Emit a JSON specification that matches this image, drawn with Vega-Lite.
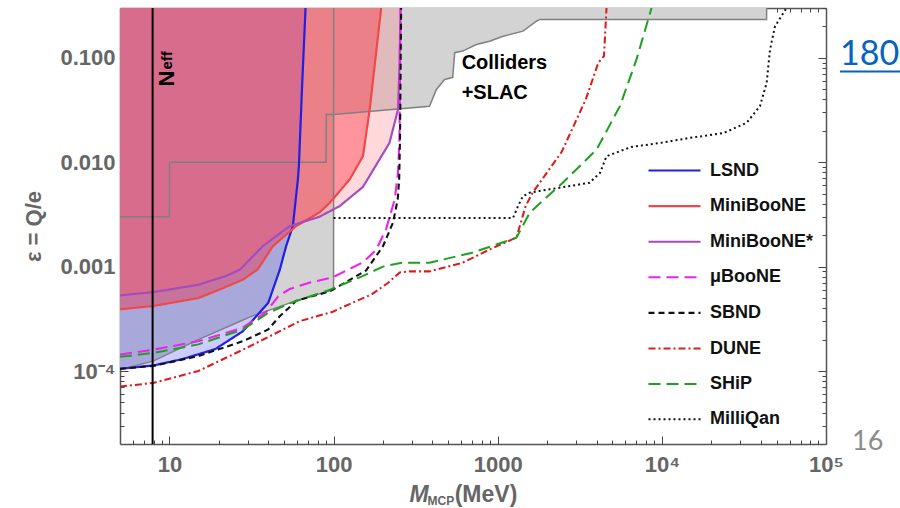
{
  "$schema": "https://vega.github.io/schema/vega-lite/v6.json",
  "width": 706,
  "height": 436,
  "autosize": {"type": "none"},
  "padding": {"left": 120, "top": 8, "right": 74, "bottom": 64},
  "background": "white",
  "config": {"view": {"stroke": null}, "font": "Liberation Sans", "axis": {"grid": false}},
  "datasets": {
    "grayfill": [
      {"x": 5, "y": 0.000103}, {"x": 8, "y": 0.000125}, {"x": 15, "y": 0.0002}, {"x": 27, "y": 0.0003},
      {"x": 31, "y": 0.00033}, {"x": 59, "y": 0.00047}, {"x": 100, "y": 0.0006}, {"x": 100.3, "y": 0.0287},
      {"x": 384, "y": 0.0344}, {"x": 423, "y": 0.0497}, {"x": 475, "y": 0.062}, {"x": 532, "y": 0.065},
      {"x": 547, "y": 0.112}, {"x": 612, "y": 0.116}, {"x": 741, "y": 0.134}, {"x": 893, "y": 0.144},
      {"x": 1077, "y": 0.161}, {"x": 1425, "y": 0.18}, {"x": 1722, "y": 0.224}, {"x": 1803, "y": 0.233},
      {"x": 43450, "y": 0.233}, {"x": 43500, "y": 0.3}
    ],
    "graylines": [
      {"g": "steps", "x": 5, "y": 0.003}, {"g": "steps", "x": 10, "y": 0.003}, {"g": "steps", "x": 10.03, "y": 0.01},
      {"g": "steps", "x": 90, "y": 0.01}, {"g": "steps", "x": 90.3, "y": 0.0287}, {"g": "steps", "x": 100, "y": 0.0287},
      {"g": "steps", "x": 384, "y": 0.0344}, {"g": "steps", "x": 423, "y": 0.0497}, {"g": "steps", "x": 475, "y": 0.062},
      {"g": "steps", "x": 532, "y": 0.065}, {"g": "steps", "x": 547, "y": 0.112}, {"g": "steps", "x": 612, "y": 0.116},
      {"g": "steps", "x": 741, "y": 0.134}, {"g": "steps", "x": 893, "y": 0.144}, {"g": "steps", "x": 1077, "y": 0.161},
      {"g": "steps", "x": 1425, "y": 0.18}, {"g": "steps", "x": 1722, "y": 0.224}, {"g": "steps", "x": 1803, "y": 0.233},
      {"g": "steps", "x": 43450, "y": 0.233}, {"g": "steps", "x": 43500, "y": 0.3},
      {"g": "slac", "x": 5, "y": 0.000103}, {"g": "slac", "x": 8, "y": 0.000125}, {"g": "slac", "x": 15, "y": 0.0002},
      {"g": "slac", "x": 27, "y": 0.0003}, {"g": "slac", "x": 31, "y": 0.00033}, {"g": "slac", "x": 59, "y": 0.00047},
      {"g": "slac", "x": 100, "y": 0.0006}, {"g": "slac", "x": 100.2, "y": 0.3}
    ],
    "lines": [
      {"s": "LSND", "x": 5, "y": 0.000105}, {"s": "LSND", "x": 8, "y": 0.000113}, {"s": "LSND", "x": 12, "y": 0.00013},
      {"s": "LSND", "x": 19, "y": 0.000162}, {"s": "LSND", "x": 28, "y": 0.00024}, {"s": "LSND", "x": 40, "y": 0.00045},
      {"s": "LSND", "x": 47, "y": 0.00093}, {"s": "LSND", "x": 51.4, "y": 0.00157}, {"s": "LSND", "x": 56.5, "y": 0.00244},
      {"s": "LSND", "x": 60.6, "y": 0.0068}, {"s": "LSND", "x": 61.5, "y": 0.0092}, {"s": "LSND", "x": 64.3, "y": 0.053},
      {"s": "LSND", "x": 67.5, "y": 0.3},
      {"s": "MiniBooNE", "x": 5, "y": 0.00039}, {"s": "MiniBooNE", "x": 8, "y": 0.00042}, {"s": "MiniBooNE", "x": 15, "y": 0.0005},
      {"s": "MiniBooNE", "x": 21.6, "y": 0.00063}, {"s": "MiniBooNE", "x": 28, "y": 0.00075}, {"s": "MiniBooNE", "x": 34.5, "y": 0.00094},
      {"s": "MiniBooNE", "x": 42.7, "y": 0.00157}, {"s": "MiniBooNE", "x": 59, "y": 0.00244}, {"s": "MiniBooNE", "x": 82, "y": 0.0033},
      {"s": "MiniBooNE", "x": 95, "y": 0.0041}, {"s": "MiniBooNE", "x": 125, "y": 0.0068}, {"s": "MiniBooNE", "x": 151, "y": 0.0114},
      {"s": "MiniBooNE", "x": 166, "y": 0.032}, {"s": "MiniBooNE", "x": 195, "y": 0.3},
      {"s": "MiniBooNE*", "x": 5, "y": 0.00053}, {"s": "MiniBooNE*", "x": 8, "y": 0.00057}, {"s": "MiniBooNE*", "x": 15, "y": 0.00067},
      {"s": "MiniBooNE*", "x": 22, "y": 0.00081}, {"s": "MiniBooNE*", "x": 27, "y": 0.00094}, {"s": "MiniBooNE*", "x": 37, "y": 0.00157},
      {"s": "MiniBooNE*", "x": 54, "y": 0.00244}, {"s": "MiniBooNE*", "x": 82, "y": 0.003}, {"s": "MiniBooNE*", "x": 109, "y": 0.0038},
      {"s": "MiniBooNE*", "x": 151, "y": 0.0058}, {"s": "MiniBooNE*", "x": 219, "y": 0.0153}, {"s": "MiniBooNE*", "x": 247, "y": 0.032},
      {"s": "MiniBooNE*", "x": 252, "y": 0.083}, {"s": "MiniBooNE*", "x": 256, "y": 0.3},
      {"s": "μBooNE", "x": 5, "y": 0.000144}, {"s": "μBooNE", "x": 8, "y": 0.00016}, {"s": "μBooNE", "x": 15, "y": 0.000193},
      {"s": "μBooNE", "x": 28, "y": 0.00026}, {"s": "μBooNE", "x": 39, "y": 0.00037}, {"s": "μBooNE", "x": 46, "y": 0.00052},
      {"s": "μBooNE", "x": 54, "y": 0.00061}, {"s": "μBooNE", "x": 71, "y": 0.0007}, {"s": "μBooNE", "x": 99, "y": 0.00079},
      {"s": "μBooNE", "x": 151, "y": 0.0011}, {"s": "μBooNE", "x": 182, "y": 0.00145}, {"s": "μBooNE", "x": 209, "y": 0.0023},
      {"s": "μBooNE", "x": 236, "y": 0.0044}, {"s": "μBooNE", "x": 247, "y": 0.008}, {"s": "μBooNE", "x": 252, "y": 0.0165},
      {"s": "μBooNE", "x": 256, "y": 0.3},
      {"s": "SBND", "x": 5, "y": 0.000105}, {"s": "SBND", "x": 8, "y": 0.000112}, {"s": "SBND", "x": 15, "y": 0.000139},
      {"s": "SBND", "x": 28, "y": 0.000193}, {"s": "SBND", "x": 40, "y": 0.00025}, {"s": "SBND", "x": 47, "y": 0.000335},
      {"s": "SBND", "x": 55, "y": 0.00042}, {"s": "SBND", "x": 59, "y": 0.00047}, {"s": "SBND", "x": 95, "y": 0.00058},
      {"s": "SBND", "x": 158, "y": 0.00092}, {"s": "SBND", "x": 200, "y": 0.00157}, {"s": "SBND", "x": 230, "y": 0.00263},
      {"s": "SBND", "x": 246, "y": 0.0044}, {"s": "SBND", "x": 251, "y": 0.0068}, {"s": "SBND", "x": 254, "y": 0.0165},
      {"s": "SBND", "x": 258, "y": 0.3},
      {"s": "DUNE", "x": 5, "y": 0.000071}, {"s": "DUNE", "x": 8, "y": 0.000077}, {"s": "DUNE", "x": 15, "y": 0.0001},
      {"s": "DUNE", "x": 28, "y": 0.00016}, {"s": "DUNE", "x": 42, "y": 0.00022}, {"s": "DUNE", "x": 62, "y": 0.0003},
      {"s": "DUNE", "x": 99, "y": 0.00037}, {"s": "DUNE", "x": 130, "y": 0.00045}, {"s": "DUNE", "x": 170, "y": 0.00054},
      {"s": "DUNE", "x": 215, "y": 0.0007}, {"s": "DUNE", "x": 253, "y": 0.00088}, {"s": "DUNE", "x": 290, "y": 0.0009},
      {"s": "DUNE", "x": 384, "y": 0.0009}, {"s": "DUNE", "x": 612, "y": 0.00109}, {"s": "DUNE", "x": 893, "y": 0.00146},
      {"s": "DUNE", "x": 1300, "y": 0.0019}, {"s": "DUNE", "x": 1480, "y": 0.0038}, {"s": "DUNE", "x": 1630, "y": 0.0051},
      {"s": "DUNE", "x": 2450, "y": 0.0125}, {"s": "DUNE", "x": 3440, "y": 0.04}, {"s": "DUNE", "x": 4100, "y": 0.0895},
      {"s": "DUNE", "x": 4440, "y": 0.104}, {"s": "DUNE", "x": 4600, "y": 0.3},
      {"s": "SHiP", "x": 5, "y": 0.000137}, {"s": "SHiP", "x": 8, "y": 0.000149}, {"s": "SHiP", "x": 15, "y": 0.00018},
      {"s": "SHiP", "x": 28, "y": 0.00025}, {"s": "SHiP", "x": 40, "y": 0.00036}, {"s": "SHiP", "x": 55, "y": 0.00045},
      {"s": "SHiP", "x": 95, "y": 0.0006}, {"s": "SHiP", "x": 150, "y": 0.00081}, {"s": "SHiP", "x": 200, "y": 0.001},
      {"s": "SHiP", "x": 260, "y": 0.00109}, {"s": "SHiP", "x": 384, "y": 0.00109}, {"s": "SHiP", "x": 700, "y": 0.00136},
      {"s": "SHiP", "x": 1300, "y": 0.00189}, {"s": "SHiP", "x": 1570, "y": 0.0033}, {"s": "SHiP", "x": 2500, "y": 0.0064},
      {"s": "SHiP", "x": 4000, "y": 0.0132}, {"s": "SHiP", "x": 5550, "y": 0.0344}, {"s": "SHiP", "x": 7000, "y": 0.096},
      {"s": "SHiP", "x": 8650, "y": 0.3},
      {"s": "MilliQan", "x": 100, "y": 0.00293}, {"s": "MilliQan", "x": 1240, "y": 0.00293}, {"s": "MilliQan", "x": 1330, "y": 0.0038},
      {"s": "MilliQan", "x": 1420, "y": 0.0047}, {"s": "MilliQan", "x": 1560, "y": 0.0051}, {"s": "MilliQan", "x": 2070, "y": 0.0055},
      {"s": "MilliQan", "x": 3620, "y": 0.00635}, {"s": "MilliQan", "x": 4200, "y": 0.0079}, {"s": "MilliQan", "x": 4600, "y": 0.0114},
      {"s": "MilliQan", "x": 6500, "y": 0.014}, {"s": "MilliQan", "x": 9800, "y": 0.0153}, {"s": "MilliQan", "x": 14800, "y": 0.0171},
      {"s": "MilliQan", "x": 23700, "y": 0.019}, {"s": "MilliQan", "x": 32800, "y": 0.0238}, {"s": "MilliQan", "x": 39600, "y": 0.0344},
      {"s": "MilliQan", "x": 43500, "y": 0.0577}, {"s": "MilliQan", "x": 45600, "y": 0.12}, {"s": "MilliQan", "x": 48900, "y": 0.2},
      {"s": "MilliQan", "x": 57500, "y": 0.3}
    ],
    "neff": [{"x": 7.9}],
    "colliders": [{"x": 603, "y": 0.0789, "t": "Colliders"}, {"x": 603, "y": 0.04, "t": "+SLAC"}],
    "neffN": [{"x": 10.73, "y": 0.0531, "t": "N"}],
    "neffSub": [{"x": 10.3, "y": 0.0772, "t": "eff"}],
    "xtitleM": [{"x": 290, "y": 0.00000562, "t": "M"}],
    "xtitleSub": [{"x": 374, "y": 0.00000526, "t": "MCP"}],
    "xtitleUnit": [{"x": 547, "y": 0.00000562, "t": "(MeV)"}],
    "link": [{"x": 121600, "y": 0.0862, "t": "180"}],
    "linkline": [{"x": 121600, "x2": 300000, "y": 0.074}],
    "page": [{"x": 144200, "y": 0.0000177, "t": "16"}]
  },
  "resolve": {"axis": {"x": "independent", "y": "independent"}},
  "layer": [
    {
      "data": {"name": "grayfill"},
      "mark": {"type": "area", "color": "#d3d3d3", "clip": true},
      "encoding": {
        "x": {"field": "x", "type": "quantitative", "scale": {"type": "log", "domain": [5, 100000], "nice": false},
          "axis": {"orient": "bottom", "values": [10, 100, 1000, 10000, 100000], "format": "d",
            "labelExpr": "datum.value >= 99999 ? '10⁵' : (datum.value >= 9999 ? '10⁴' : datum.label)",
            "ticks": false, "domain": true, "domainColor": "#555555", "domainWidth": 1.5, "labelFontSize": 22,
            "labelFontWeight": "bold", "labelColor": "#666666", "labelPadding": 10, "labelOverlap": false,
            "labelFlush": false, "title": null, "grid": false}},
        "y": {"field": "y", "type": "quantitative", "scale": {"type": "log", "domain": [0.00002, 0.3], "nice": false},
          "axis": {"orient": "left", "values": [0.0001, 0.001, 0.01, 0.1],
            "labelExpr": "datum.value < 0.0005 ? '10⁻⁴' : format(datum.value, '.3f')",
            "ticks": false, "domain": true, "domainColor": "#555555", "domainWidth": 1.5, "labelFontSize": 22,
            "labelFontWeight": "bold", "labelColor": "#666666", "labelPadding": 5, "labelOverlap": false,
            "labelFlush": false, "title": "ε = Q/e", "titleFontSize": 22, "titleFontWeight": "bold",
            "titleColor": "#666666", "titlePadding": 14, "grid": false}},
        "y2": {"datum": 0.3}
      }
    },
    {
      "data": {"name": "lines"},
      "transform": [{"filter": "datum.s == 'LSND'"}],
      "mark": {"type": "area", "color": "#0000ff", "fillOpacity": 0.2, "clip": true},
      "encoding": {
        "x": {"field": "x", "type": "quantitative", "scale": {"type": "log", "domain": [5, 100000], "nice": false}, "axis": null},
        "y": {"field": "y", "type": "quantitative", "scale": {"type": "log", "domain": [0.00002, 0.3], "nice": false}, "axis": null},
        "y2": {"datum": 0.3}
      }
    },
    {
      "data": {"name": "lines"},
      "transform": [{"filter": "datum.s == 'MiniBooNE*'"}],
      "mark": {"type": "area", "color": "#ff8088", "fillOpacity": 0.3, "clip": true},
      "encoding": {
        "x": {"field": "x", "type": "quantitative", "scale": {"type": "log", "domain": [5, 100000], "nice": false}, "axis": null},
        "y": {"field": "y", "type": "quantitative", "scale": {"type": "log", "domain": [0.00002, 0.3], "nice": false}, "axis": null},
        "y2": {"datum": 0.3}
      }
    },
    {
      "data": {"name": "lines"},
      "transform": [{"filter": "datum.s == 'MiniBooNE'"}],
      "mark": {"type": "area", "color": "#ff1428", "fillOpacity": 0.35, "clip": true},
      "encoding": {
        "x": {"field": "x", "type": "quantitative", "scale": {"type": "log", "domain": [5, 100000], "nice": false}, "axis": null},
        "y": {"field": "y", "type": "quantitative", "scale": {"type": "log", "domain": [0.00002, 0.3], "nice": false}, "axis": null},
        "y2": {"datum": 0.3}
      }
    },
    {
      "data": {"name": "graylines"},
      "mark": {"type": "line", "color": "#808080", "strokeWidth": 1.5, "clip": true},
      "encoding": {
        "detail": {"field": "g"},
        "x": {"field": "x", "type": "quantitative", "scale": {"type": "log", "domain": [5, 100000], "nice": false},
          "axis": {"orient": "bottom", "values": [6,7,8,9,10,20,30,40,50,60,70,80,90,100,200,300,400,500,600,700,800,900,1000,2000,3000,4000,5000,6000,7000,8000,9000,10000,20000,30000,40000,50000,60000,70000,80000,90000,100000],
            "labels": false, "domain": false, "ticks": true, "tickColor": "#444444", "tickWidth": 1,
            "tickSize": {"condition": {"test": "abs(log(datum.value)/LN10 - round(log(datum.value)/LN10)) < 0.01", "value": -8}, "value": -4},
            "title": null, "grid": false}},
        "y": {"field": "y", "type": "quantitative", "scale": {"type": "log", "domain": [0.00002, 0.3], "nice": false},
          "axis": {"orient": "left", "values": [0.00003,0.00004,0.00005,0.00006,0.00007,0.00008,0.00009,0.0001,0.0002,0.0003,0.0004,0.0005,0.0006,0.0007,0.0008,0.0009,0.001,0.002,0.003,0.004,0.005,0.006,0.007,0.008,0.009,0.01,0.02,0.03,0.04,0.05,0.06,0.07,0.08,0.09,0.1,0.2,0.3],
            "labels": false, "domain": false, "ticks": true, "tickColor": "#444444", "tickWidth": 1,
            "tickSize": {"condition": {"test": "abs(log(datum.value)/LN10 - round(log(datum.value)/LN10)) < 0.01", "value": -8}, "value": -4},
            "title": null, "grid": false}}
      }
    },
    {
      "data": {"name": "lines"},
      "mark": {"type": "line", "clip": true},
      "encoding": {
        "x": {"field": "x", "type": "quantitative", "scale": {"type": "log", "domain": [5, 100000], "nice": false},
          "axis": {"orient": "top", "values": [6,7,8,9,10,20,30,40,50,60,70,80,90,100,200,300,400,500,600,700,800,900,1000,2000,3000,4000,5000,6000,7000,8000,9000,10000,20000,30000,40000,50000,60000,70000,80000,90000,100000],
            "labels": false, "domain": true, "domainColor": "#555555", "domainWidth": 1.5, "ticks": true, "tickColor": "#444444", "tickWidth": 1,
            "tickSize": {"condition": {"test": "abs(log(datum.value)/LN10 - round(log(datum.value)/LN10)) < 0.01", "value": -8}, "value": -4},
            "title": null, "grid": false}},
        "y": {"field": "y", "type": "quantitative", "scale": {"type": "log", "domain": [0.00002, 0.3], "nice": false},
          "axis": {"orient": "right", "values": [0.00003,0.00004,0.00005,0.00006,0.00007,0.00008,0.00009,0.0001,0.0002,0.0003,0.0004,0.0005,0.0006,0.0007,0.0008,0.0009,0.001,0.002,0.003,0.004,0.005,0.006,0.007,0.008,0.009,0.01,0.02,0.03,0.04,0.05,0.06,0.07,0.08,0.09,0.1,0.2,0.3],
            "labels": false, "domain": true, "domainColor": "#555555", "domainWidth": 1.5, "ticks": true, "tickColor": "#444444", "tickWidth": 1,
            "tickSize": {"condition": {"test": "abs(log(datum.value)/LN10 - round(log(datum.value)/LN10)) < 0.01", "value": -8}, "value": -4},
            "title": null, "grid": false}},
        "stroke": {"field": "s", "type": "nominal",
          "scale": {"domain": ["LSND", "MiniBooNE", "MiniBooNE*", "μBooNE", "SBND", "DUNE", "SHiP", "MilliQan"],
            "range": ["#1f1fe6", "#f04848", "#a64ac0", "#ee22ee", "#111111", "#e01b1b", "#1fa01f", "#111111"]},
          "legend": {"orient": "none", "legendX": 527, "legendY": 148, "title": null, "symbolType": "M-2,0H2",
            "symbolSize": 676, "symbolStrokeWidth": 2.5, "labelFontSize": 18, "labelFontWeight": "bold",
            "labelFont": "Liberation Sans", "labelColor": "#111111", "symbolOffset": 13, "labelOffset": 21,
            "rowPadding": 11.6, "padding": 0, "labelLimit": 300}},
        "strokeDash": {"field": "s", "type": "nominal",
          "scale": {"domain": ["LSND", "MiniBooNE", "MiniBooNE*", "μBooNE", "SBND", "DUNE", "SHiP", "MilliQan"],
            "range": [[1, 0], [1, 0], [1, 0], [12, 6], [6, 4], [7, 3, 2, 3], [12, 6], [2, 3]]},
          "legend": {"orient": "none", "legendX": 527, "legendY": 148, "title": null, "symbolType": "M-2,0H2",
            "symbolSize": 676, "symbolStrokeWidth": 2.5, "labelFontSize": 18, "labelFontWeight": "bold",
            "labelFont": "Liberation Sans", "labelColor": "#111111", "symbolOffset": 13, "labelOffset": 21,
            "rowPadding": 11.6, "padding": 0, "labelLimit": 300}},
        "strokeWidth": {"field": "s", "type": "nominal",
          "scale": {"domain": ["LSND", "MiniBooNE", "MiniBooNE*", "μBooNE", "SBND", "DUNE", "SHiP", "MilliQan"],
            "range": [2.2, 2, 2, 2.4, 2, 2, 2.8, 2]},
          "legend": null}
      }
    },
    {
      "data": {"name": "neff"},
      "mark": {"type": "rule", "color": "#000000", "strokeWidth": 2},
      "encoding": {
        "x": {"field": "x", "type": "quantitative", "scale": {"type": "log", "domain": [5, 100000], "nice": false}, "axis": null}
      }
    },
    {
      "data": {"name": "colliders"},
      "mark": {"type": "text", "font": "Liberation Sans", "fontSize": 20, "fontWeight": "bold", "color": "#000000", "align": "left", "baseline": "alphabetic"},
      "encoding": {
        "x": {"field": "x", "type": "quantitative", "scale": {"type": "log", "domain": [5, 100000], "nice": false}, "axis": null},
        "y": {"field": "y", "type": "quantitative", "scale": {"type": "log", "domain": [0.00002, 0.3], "nice": false}, "axis": null},
        "text": {"field": "t"}
      }
    },
    {
      "data": {"name": "neffN"},
      "mark": {"type": "text", "font": "Liberation Sans", "fontSize": 22, "fontWeight": "bold", "color": "#000000", "align": "left", "baseline": "alphabetic", "angle": 270},
      "encoding": {
        "x": {"field": "x", "type": "quantitative", "scale": {"type": "log", "domain": [5, 100000], "nice": false}, "axis": null},
        "y": {"field": "y", "type": "quantitative", "scale": {"type": "log", "domain": [0.00002, 0.3], "nice": false}, "axis": null},
        "text": {"field": "t"}
      }
    },
    {
      "data": {"name": "neffSub"},
      "mark": {"type": "text", "font": "Liberation Sans", "fontSize": 15, "fontWeight": "bold", "color": "#000000", "align": "left", "baseline": "alphabetic", "angle": 270},
      "encoding": {
        "x": {"field": "x", "type": "quantitative", "scale": {"type": "log", "domain": [5, 100000], "nice": false}, "axis": null},
        "y": {"field": "y", "type": "quantitative", "scale": {"type": "log", "domain": [0.00002, 0.3], "nice": false}, "axis": null},
        "text": {"field": "t"}
      }
    },
    {
      "data": {"name": "xtitleM"},
      "mark": {"type": "text", "font": "Liberation Sans", "fontSize": 23, "fontWeight": "bold", "fontStyle": "italic", "color": "#666666", "align": "left", "baseline": "alphabetic"},
      "encoding": {
        "x": {"field": "x", "type": "quantitative", "scale": {"type": "log", "domain": [5, 100000], "nice": false}, "axis": null},
        "y": {"field": "y", "type": "quantitative", "scale": {"type": "log", "domain": [0.00002, 0.3], "nice": false}, "axis": null},
        "text": {"field": "t"}
      }
    },
    {
      "data": {"name": "xtitleSub"},
      "mark": {"type": "text", "font": "Liberation Sans", "fontSize": 12, "fontWeight": "bold", "color": "#666666", "align": "left", "baseline": "alphabetic"},
      "encoding": {
        "x": {"field": "x", "type": "quantitative", "scale": {"type": "log", "domain": [5, 100000], "nice": false}, "axis": null},
        "y": {"field": "y", "type": "quantitative", "scale": {"type": "log", "domain": [0.00002, 0.3], "nice": false}, "axis": null},
        "text": {"field": "t"}
      }
    },
    {
      "data": {"name": "xtitleUnit"},
      "mark": {"type": "text", "font": "Liberation Sans", "fontSize": 23, "fontWeight": "bold", "color": "#666666", "align": "left", "baseline": "alphabetic"},
      "encoding": {
        "x": {"field": "x", "type": "quantitative", "scale": {"type": "log", "domain": [5, 100000], "nice": false}, "axis": null},
        "y": {"field": "y", "type": "quantitative", "scale": {"type": "log", "domain": [0.00002, 0.3], "nice": false}, "axis": null},
        "text": {"field": "t"}
      }
    },
    {
      "data": {"name": "link"},
      "mark": {"type": "text", "font": "Lato", "fontSize": 34, "color": "#0563c1", "align": "left", "baseline": "alphabetic"},
      "encoding": {
        "x": {"field": "x", "type": "quantitative", "scale": {"type": "log", "domain": [5, 100000], "nice": false}, "axis": null},
        "y": {"field": "y", "type": "quantitative", "scale": {"type": "log", "domain": [0.00002, 0.3], "nice": false}, "axis": null},
        "text": {"field": "t"}
      }
    },
    {
      "data": {"name": "linkline"},
      "mark": {"type": "rule", "color": "#0563c1", "strokeWidth": 2},
      "encoding": {
        "x": {"field": "x", "type": "quantitative", "scale": {"type": "log", "domain": [5, 100000], "nice": false}, "axis": null},
        "x2": {"field": "x2"},
        "y": {"field": "y", "type": "quantitative", "scale": {"type": "log", "domain": [0.00002, 0.3], "nice": false}, "axis": null}
      }
    },
    {
      "data": {"name": "page"},
      "mark": {"type": "text", "font": "Lato", "fontSize": 27, "color": "#8c8c8c", "align": "left", "baseline": "alphabetic"},
      "encoding": {
        "x": {"field": "x", "type": "quantitative", "scale": {"type": "log", "domain": [5, 100000], "nice": false}, "axis": null},
        "y": {"field": "y", "type": "quantitative", "scale": {"type": "log", "domain": [0.00002, 0.3], "nice": false}, "axis": null},
        "text": {"field": "t"}
      }
    }
  ]
}
